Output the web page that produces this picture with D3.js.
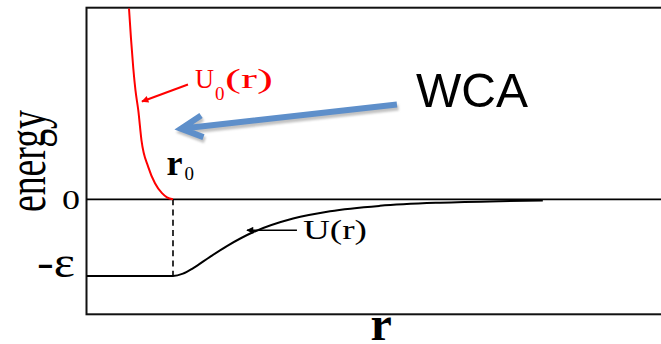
<!DOCTYPE html>
<html>
<head>
<meta charset="utf-8">
<script src="https://cdn.jsdelivr.net/npm/d3@7"></script>
<style>
  html, body { margin: 0; padding: 0; background: #fff; overflow: hidden; }
  svg { display: block; }
</style>
</head>
<body>
<svg id="chart" width="661" height="344"></svg>
<script>
// Separation r (in units of sigma) and energy (in units of epsilon)
const rDomain = [0.8, 3.0];
const energyDomain = [-1.5, 2.5];

// Repulsive reference potential U0(r), defined up to r0
const u0R = [0.9586, 0.9660, 0.9746, 0.9828, 0.9933, 1.0052, 1.0306, 1.0556, 1.0817, 1.1004, 1.1228];
const u0E = [2.49, 2.10, 1.71, 1.42, 1.16, 0.77, 0.42, 0.21, 0.08, 0.026, 0];

// Attractive perturbation U(r): flat at -epsilon below r0, then rising towards 0
const uR = [0.80, 1.1228, 1.160, 1.197, 1.261, 1.324, 1.421, 1.571, 1.709, 1.895, 2.119, 2.343, 2.503];
const uE = [-1, -1, -0.97, -0.90, -0.75, -0.61, -0.43, -0.25, -0.155, -0.085, -0.044, -0.024, -0.016];

// Position of the potential minimum
const r0 = 1.1228;

// Energy axis ticks
const yTickValues = [0, -1];
const yTickLabels = ["0", "-ε"];

const serif = "'Liberation Serif', 'Times New Roman', serif";
const sans = "'Liberation Sans', Arial, sans-serif";

const svg = d3.select("#chart");
const x = d3.scaleLinear().domain(rDomain).range([86.5, 676]);
const y = d3.scaleLinear().domain(energyDomain).range([314.3, 7.7]);

const defs = svg.append("defs");
defs.append("clipPath").attr("id", "plot-clip")
  .append("rect")
  .attr("x", x(rDomain[0])).attr("y", y(energyDomain[1]))
  .attr("width", x(rDomain[1]) - x(rDomain[0]))
  .attr("height", y(energyDomain[0]) - y(energyDomain[1]));

const blur = defs.append("filter").attr("id", "soft")
  .attr("x", "-10%").attr("y", "-50%").attr("width", "120%").attr("height", "200%");
blur.append("feGaussianBlur").attr("stdDeviation", 0.9);

function headMarker(id, color) {
  defs.append("marker").attr("id", id)
    .attr("viewBox", "0 0 10 10").attr("refX", 9).attr("refY", 5)
    .attr("markerUnits", "userSpaceOnUse")
    .attr("markerWidth", 9).attr("markerHeight", 7)
    .attr("orient", "auto")
    .append("path").attr("d", "M0,0 L10,5 L0,10 z").attr("fill", color);
}
headMarker("head-red", "#ff0000");
headMarker("head-black", "#000");

// Frame
svg.append("rect")
  .attr("x", x(rDomain[0])).attr("y", y(energyDomain[1]))
  .attr("width", x(rDomain[1]) - x(rDomain[0]))
  .attr("height", y(energyDomain[0]) - y(energyDomain[1]))
  .attr("fill", "none").attr("stroke", "#111").attr("stroke-width", 2);

// Zero-energy baseline
svg.append("line")
  .attr("x1", x(rDomain[0])).attr("x2", x(rDomain[1]))
  .attr("y1", y(0)).attr("y2", y(0))
  .attr("stroke", "#000").attr("stroke-width", 1.6);

// Dashed drop line at r0
svg.append("line")
  .attr("x1", x(r0)).attr("x2", x(r0))
  .attr("y1", y(0)).attr("y2", y(-1))
  .attr("stroke", "#000").attr("stroke-width", 1.6)
  .attr("stroke-dasharray", "6,4.2");

const line = d3.line()
  .x(d => x(d[0])).y(d => y(d[1]))
  .curve(d3.curveMonotoneX);

const plot = svg.append("g").attr("clip-path", "url(#plot-clip)");

plot.append("path")
  .datum(uR.map((r, i) => [r, uE[i]]))
  .attr("d", line)
  .attr("fill", "none").attr("stroke", "#000").attr("stroke-width", 2);

plot.append("path")
  .datum(u0R.map((r, i) => [r, u0E[i]]))
  .attr("d", line)
  .attr("fill", "none").attr("stroke", "#ff0000").attr("stroke-width", 2);

// Energy axis labels
const yAxis = d3.axisLeft(y)
  .tickValues(yTickValues)
  .tickFormat((d, i) => yTickLabels[i])
  .tickSize(0);
const yAxisG = svg.append("g")
  .attr("transform", `translate(${x(rDomain[0])},0)`)
  .call(yAxis);
yAxisG.select(".domain").remove();
yAxisG.selectAll(".tick text")
  .attr("fill", "#000")
  .attr("font-family", serif)
  .attr("lengthAdjust", "spacingAndGlyphs")
  .each(function (d, i) {
    const t = d3.select(this);
    if (i === 0) {
      t.attr("font-size", 27).attr("x", -6.5).attr("dy", "9px").attr("textLength", 18);
    } else {
      t.attr("font-size", 44).attr("x", -11.5).attr("dy", "1px").attr("textLength", 38);
    }
  });

// Axis titles
svg.append("text")
  .attr("transform", `translate(${x(rDomain[0]) - 41.5},${(y(energyDomain[0]) + y(energyDomain[1])) / 2}) rotate(-90)`)
  .attr("text-anchor", "middle")
  .attr("font-family", serif).attr("font-size", 54)
  .attr("textLength", 102).attr("lengthAdjust", "spacingAndGlyphs")
  .text("energy");

svg.append("text")
  .attr("x", (x(rDomain[0]) + x(rDomain[1])) / 2)
  .attr("y", y(energyDomain[0]) + 26)
  .attr("text-anchor", "middle")
  .attr("font-family", serif).attr("font-size", 48).attr("font-weight", "bold")
  .text("r");

// r0 label
const r0Label = svg.append("g")
  .attr("transform", `translate(${x(1.0985)},${y(0.313)})`);
r0Label.append("text")
  .attr("font-family", serif).attr("font-size", 36).attr("font-weight", "bold")
  .text("r");
r0Label.append("text")
  .attr("x", 18).attr("y", 5)
  .attr("font-family", serif).attr("font-size", 19)
  .text("0");

// U0(r) label with pointer
svg.append("line")
  .attr("x1", x(1.1787)).attr("y1", y(1.498))
  .attr("x2", x(1.0071)).attr("y2", y(1.277))
  .attr("stroke", "#ff0000").attr("stroke-width", 2)
  .attr("marker-end", "url(#head-red)");
const u0Label = svg.append("g")
  .attr("transform", `translate(${x(1.2049)},${y(1.446)})`)
  .attr("fill", "#ff0000").attr("font-family", serif);
u0Label.append("text").attr("font-size", 28)
  .attr("textLength", 19).attr("lengthAdjust", "spacingAndGlyphs").text("U");
u0Label.append("text").attr("x", 20).attr("y", 12).attr("font-size", 19).text("0");
u0Label.append("text").attr("x", 30).attr("font-size", 28)
  .attr("textLength", 48).attr("lengthAdjust", "spacingAndGlyphs").text("(r)");

// U(r) label with pointer
svg.append("line")
  .attr("x1", x(1.5854)).attr("y1", y(-0.404))
  .attr("x2", x(1.3989)).attr("y2", y(-0.404))
  .attr("stroke", "#000").attr("stroke-width", 1.6)
  .attr("marker-end", "url(#head-black)");
svg.append("text")
  .attr("x", x(1.6078)).attr("y", y(-0.521))
  .attr("font-family", serif).attr("font-size", 28)
  .attr("textLength", 64).attr("lengthAdjust", "spacingAndGlyphs")
  .text("U(r)");

// WCA callout arrow
const tail = [x(1.9586), y(1.238)];
const tip = [x(1.1526), y(0.921)];
const ang = Math.atan2(tail[1] - tip[1], tail[0] - tip[0]);
const wing = 24, spread = 27 * Math.PI / 180;
const w1 = [tip[0] + wing * Math.cos(ang - spread), tip[1] + wing * Math.sin(ang - spread)];
const w2 = [tip[0] + wing * Math.cos(ang + spread), tip[1] + wing * Math.sin(ang + spread)];
const arrowPath = `M${tail[0]},${tail[1]} L${tip[0] + 2 * Math.cos(ang)},${tip[1] + 2 * Math.sin(ang)} ` +
  `M${w1[0]},${w1[1]} L${tip[0]},${tip[1]} L${w2[0]},${w2[1]}`;
svg.append("path")
  .attr("d", arrowPath)
  .attr("transform", "translate(1.5,3)")
  .attr("fill", "none").attr("stroke", "#c2c2c2").attr("stroke-width", 6)
  .attr("filter", "url(#soft)");
svg.append("path")
  .attr("d", arrowPath)
  .attr("fill", "none").attr("stroke", "#5e8fca").attr("stroke-width", 6)
  .attr("stroke-linejoin", "miter");

svg.append("text")
  .attr("x", x(2.0295)).attr("y", y(1.199))
  .attr("font-family", sans).attr("font-size", 49)
  .attr("textLength", 112).attr("lengthAdjust", "spacingAndGlyphs")
  .text("WCA");
</script>
</body>
</html>
